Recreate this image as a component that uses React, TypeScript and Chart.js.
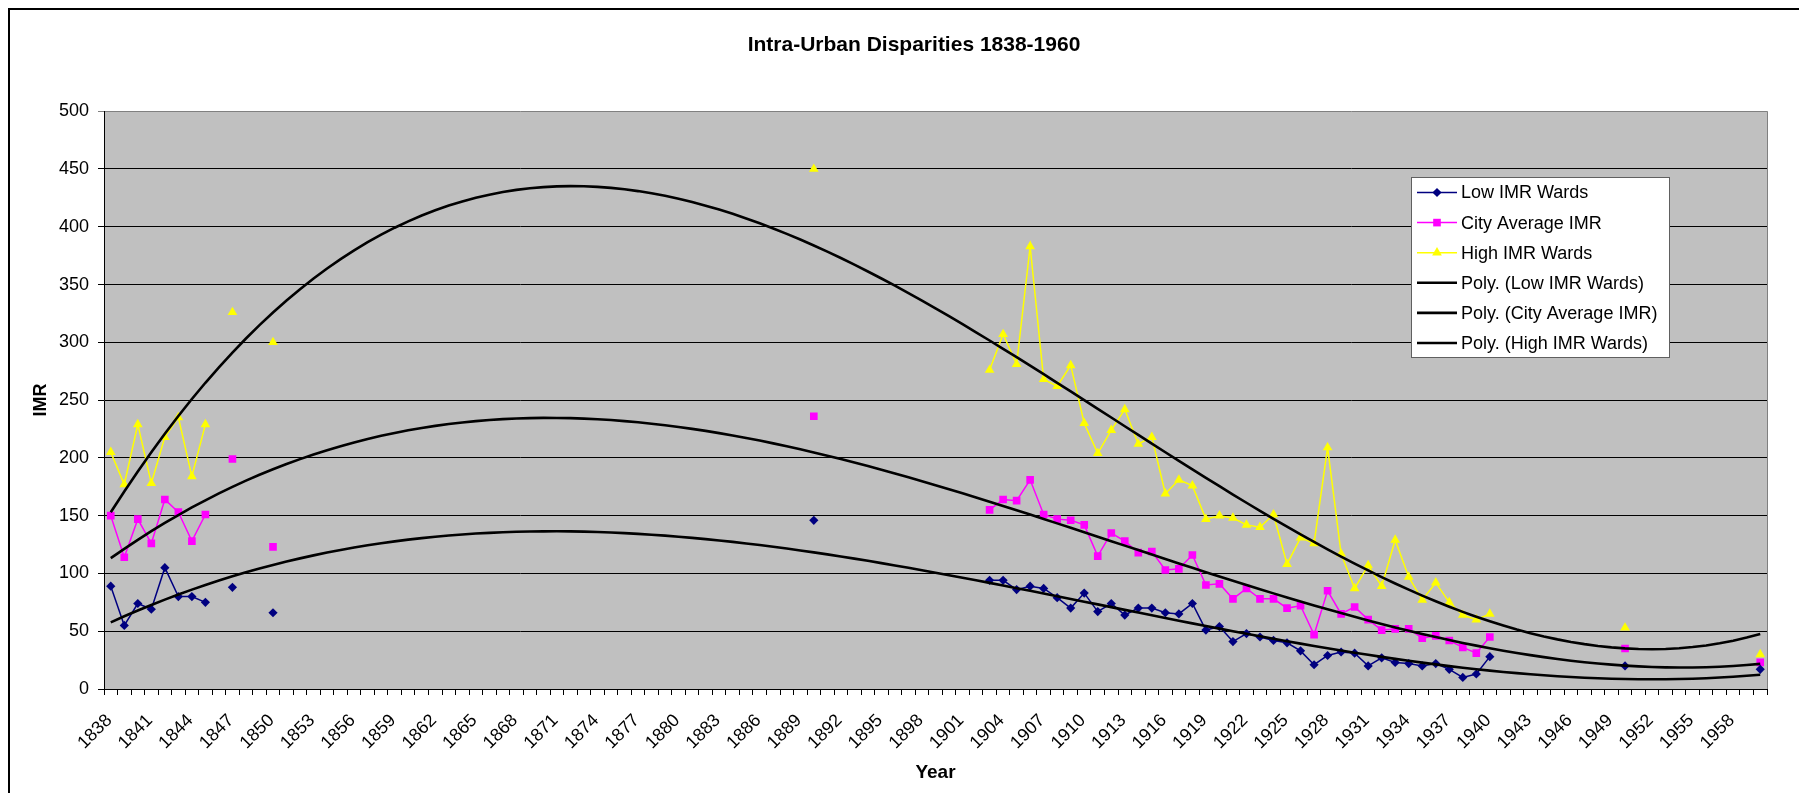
import React, { useEffect, useRef } from 'react';
import { Chart, registerables } from 'chart.js';

Chart.register(...registerables);

const FIRST_YEAR = 1838;
const LAST_YEAR = 1960;

// Category axis: every year 1838..1960
const categories: string[] = [];
for (let y = FIRST_YEAR; y <= LAST_YEAR; y++) categories.push(String(y));

// Years for which observations exist
const obsYears = [
  1838, 1839, 1840, 1841, 1842, 1843, 1844, 1845, 1847, 1850, 1890,
  1903, 1904, 1905, 1906, 1907, 1908, 1909, 1910, 1911, 1912, 1913, 1914, 1915, 1916, 1917, 1918, 1919,
  1920, 1921, 1922, 1923, 1924, 1925, 1926, 1927, 1928, 1929, 1930, 1931, 1932, 1933, 1934, 1935, 1936,
  1937, 1938, 1939, 1940, 1950, 1960,
];

const lowIMR = [
  89, 55, 74, 69, 105, 80, 80, 75, 88, 66, 146,
  94, 94, 86, 89, 87, 79, 70, 83, 67, 74, 64, 70, 70, 66, 65, 74, 51,
  54, 41, 48, 45, 42, 40, 33, 21, 29, 32, 31, 20, 27, 23, 22, 20, 22,
  17, 10, 13, 28, 20, 17,
];

const cityAvgIMR = [
  150, 114, 147, 126, 164, 153, 128, 151, 199, 123, 236,
  155, 164, 163, 181, 151, 147, 146, 142, 115, 135, 128, 118, 119, 103, 104, 116, 90,
  91, 78, 87, 78, 78, 70, 72, 47, 85, 65, 71, 60, 51, 52, 52, 44, 46,
  42, 36, 31, 45, 35, 23,
];

const highIMR = [
  205, 177, 229, 178, 218, 235, 184, 229, 326, 300, 450,
  276, 307, 281, 383, 268, 262, 280, 230, 204, 224, 242, 212, 218, 169, 181, 176, 147,
  150, 148, 142, 140, 151, 108, 131, 126, 209, 117, 87, 107, 89, 129, 97, 77, 92,
  75, 64, 60, 65, 53, 30,
];

const seriesNames = ['Low IMR Wards', 'City Average IMR', 'High IMR Wards'];
const seriesColors = ['#000080', '#FF00FF', '#FFFF00'];
const seriesMarkers = ['rectRot', 'rect', 'triangle'];
const seriesRadius = [4.6, 5.4, 5.6];
const yTickValues = [0, 50, 100, 150, 200, 250, 300, 350, 400, 450, 500];
const TREND_ORDER = 3;

function toSeries(vals: number[]): (number | null)[] {
  const arr: (number | null)[] = categories.map(() => null);
  obsYears.forEach((yr, k) => {
    arr[yr - FIRST_YEAR] = vals[k];
  });
  return arr;
}

// Least-squares polynomial trendline (as Excel's "Poly." trendline), x = 1..n
function polyTrend(series: (number | null)[], order: number): number[] {
  const n = order + 1;
  const mid = (series.length + 1) / 2;
  const half = (series.length - 1) / 2;
  const sc = (x: number) => (x - mid) / half;
  const A: number[][] = Array.from({ length: n }, () => new Array(n + 1).fill(0));
  series.forEach((v, i) => {
    if (v == null) return;
    const t = sc(i + 1);
    const pw = [1];
    for (let p = 1; p <= 2 * order; p++) pw.push(pw[p - 1] * t);
    for (let r = 0; r < n; r++) {
      for (let c = 0; c < n; c++) A[r][c] += pw[r + c];
      A[r][n] += pw[r] * v;
    }
  });
  for (let col = 0; col < n; col++) {
    let piv = col;
    for (let r = col + 1; r < n; r++) if (Math.abs(A[r][col]) > Math.abs(A[piv][col])) piv = r;
    [A[col], A[piv]] = [A[piv], A[col]];
    for (let r = 0; r < n; r++) {
      if (r === col) continue;
      const f = A[r][col] / A[col][col];
      for (let c = col; c <= n; c++) A[r][c] -= f * A[col][c];
    }
  }
  const coef = A.map((row, r) => row[n] / row[r]);
  return series.map((_, i) => {
    const t = sc(i + 1);
    let s = 0;
    let p = 1;
    for (let j = 0; j < n; j++) {
      s += coef[j] * p;
      p *= t;
    }
    return s;
  });
}

const FONT = "'Liberation Sans', Arial, Helvetica, sans-serif";

const frameAndPlotBg = {
  id: 'frameAndPlotBg',
  beforeDraw(chart: any) {
    const { ctx, chartArea, width, height } = chart;
    ctx.save();
    ctx.fillStyle = '#FFFFFF';
    ctx.fillRect(0, 0, width, height);
    ctx.fillStyle = '#C0C0C0';
    ctx.fillRect(chartArea.left, chartArea.top, chartArea.right - chartArea.left, chartArea.bottom - chartArea.top);
    ctx.fillStyle = '#000000';
    ctx.fillRect(0, 0, 2, height);
    ctx.fillRect(0, 0, width, 2);
    ctx.restore();
  },
  beforeDatasetsDraw(chart: any) {
    const { ctx, chartArea } = chart;
    ctx.save();
    ctx.strokeStyle = '#808080';
    ctx.lineWidth = 1;
    ctx.beginPath();
    ctx.moveTo(Math.round(chartArea.right) + 0.5, chartArea.top);
    ctx.lineTo(Math.round(chartArea.right) + 0.5, chartArea.bottom);
    ctx.stroke();
    ctx.restore();
  },
};

function drawMarker(ctx: CanvasRenderingContext2D, style: string, x: number, y: number, r: number, color: string) {
  ctx.fillStyle = color;
  ctx.beginPath();
  if (style === 'rectRot') {
    ctx.moveTo(x, y - r);
    ctx.lineTo(x + r, y);
    ctx.lineTo(x, y + r);
    ctx.lineTo(x - r, y);
  } else if (style === 'rect') {
    const h = r * Math.SQRT1_2;
    ctx.rect(x - h, y - h, 2 * h, 2 * h);
  } else if (style === 'triangle') {
    ctx.moveTo(x, y - r);
    ctx.lineTo(x + r * 0.866, y + r * 0.5);
    ctx.lineTo(x - r * 0.866, y + r * 0.5);
  }
  ctx.closePath();
  ctx.fill();
}

const boxLegend = {
  id: 'boxLegend',
  afterDraw(chart: any) {
    const { ctx } = chart;
    const x0 = 1403;
    const y0 = 169;
    const w = 258;
    const h = 180;
    ctx.save();
    ctx.fillStyle = '#FFFFFF';
    ctx.fillRect(x0, y0, w, h);
    ctx.strokeStyle = '#606060';
    ctx.lineWidth = 1;
    ctx.strokeRect(x0 + 0.5, y0 + 0.5, w, h);
    ctx.font = `18px ${FONT}`;
    ctx.textBaseline = 'middle';
    ctx.textAlign = 'left';
    chart.data.datasets.forEach((ds: any, i: number) => {
      const cy = y0 + 15.5 + i * 30.1;
      ctx.strokeStyle = ds.borderColor;
      ctx.lineWidth = ds.borderWidth;
      ctx.beginPath();
      ctx.moveTo(x0 + 6, cy);
      ctx.lineTo(x0 + 46, cy);
      ctx.stroke();
      if (ds.pointRadius > 0) drawMarker(ctx, ds.pointStyle, x0 + 26, cy, ds.pointRadius, ds.backgroundColor);
      ctx.fillStyle = '#000000';
      ctx.fillText(ds.label, x0 + 50, cy + 1);
    });
    ctx.restore();
  },
};

export default function App() {
  const canvasRef = useRef<HTMLCanvasElement | null>(null);

  useEffect(() => {
    const canvas = canvasRef.current;
    if (!canvas) return;
    Chart.defaults.font.family = FONT;
    Chart.defaults.color = '#000000';

    const raw = [lowIMR, cityAvgIMR, highIMR].map(toSeries);
    const dataDatasets = raw.map((d, k) => ({
      label: seriesNames[k],
      data: d,
      borderColor: seriesColors[k],
      backgroundColor: seriesColors[k],
      borderWidth: 1.5,
      pointStyle: seriesMarkers[k],
      pointRadius: seriesRadius[k],
      pointBorderWidth: 0,
      pointHoverRadius: seriesRadius[k],
      spanGaps: false,
      tension: 0,
      order: 1,
      yAxisID: 'y',
    }));
    const trendDatasets = raw.map((d, k) => ({
      label: `Poly. (${seriesNames[k]})`,
      data: polyTrend(d, TREND_ORDER),
      borderColor: '#000000',
      backgroundColor: '#000000',
      borderWidth: 2.6,
      pointRadius: 0,
      pointHoverRadius: 0,
      tension: 0,
      order: 0,
      yAxisID: 'y',
    }));

    const chart = new Chart(canvas, {
      type: 'line',
      data: { labels: categories, datasets: [...dataDatasets, ...trendDatasets] as any },
      plugins: [frameAndPlotBg, boxLegend],
      options: {
        responsive: false,
        animation: false,
        layout: { padding: 0 },
        plugins: {
          legend: { display: false },
          tooltip: { enabled: false },
          title: {
            display: true,
            text: 'Intra-Urban Disparities 1838-1960',
            color: '#000000',
            font: { family: FONT, size: 21, weight: 'bold' },
            padding: { top: 25, bottom: 53 },
          },
        },
        scales: {
          x: {
            type: 'category',
            offset: true,
            grid: {
              offset: true,
              drawOnChartArea: false,
              drawTicks: true,
              tickLength: 6,
              color: '#000000',
            },
            border: { display: true, color: '#000000', width: 1 },
            ticks: {
              autoSkip: false,
              maxRotation: 45,
              minRotation: 45,
              padding: 15,
              labelOffset: -1.5,
              color: '#000000',
              font: { family: FONT, size: 18 },
              callback: (_v: any, idx: number) => (idx % 3 === 0 ? categories[idx] : ''),
            },
            title: {
              display: true,
              text: 'Year',
              color: '#000000',
              font: { family: FONT, size: 19, weight: 'bold' },
              padding: { top: 0, bottom: 9 },
            },
            afterFit: (scale: any) => {
              scale.height = 104;
            },
          },
          y: {
            position: 'left',
            min: 0,
            max: 500,
            afterBuildTicks: (scale: any) => {
              scale.ticks = yTickValues.map((v) => ({ value: v }));
            },
            grid: {
              drawTicks: true,
              tickLength: 6,
              color: (c: any) => (c.tick && c.tick.value === 500 ? '#808080' : '#000000'),
            },
            border: { display: true, color: '#000000', width: 1 },
            ticks: {
              padding: 9,
              color: '#000000',
              font: { family: FONT, size: 18 },
            },
            title: {
              display: true,
              text: 'IMR',
              color: '#000000',
              font: { family: FONT, size: 18, weight: 'bold' },
              padding: { top: 22, bottom: 0 },
            },
            afterFit: (scale: any) => {
              scale.width = 96;
            },
          },
          // empty margin on the right of the plot area (the chart frame continues past the window)
          rightMargin: {
            type: 'linear',
            position: 'right',
            display: true,
            grid: { display: false, drawTicks: false },
            border: { display: false },
            ticks: { display: false },
            afterFit: (scale: any) => {
              scale.width = 53;
            },
          },
        },
      } as any,
    });
    return () => chart.destroy();
  }, []);

  return (
    <div style={{ width: 1791, height: 785, overflow: 'hidden', background: '#ffffff' }}>
      <canvas ref={canvasRef} width={1812} height={785} style={{ display: 'block', width: 1812, height: 785 }} />
    </div>
  );
}
